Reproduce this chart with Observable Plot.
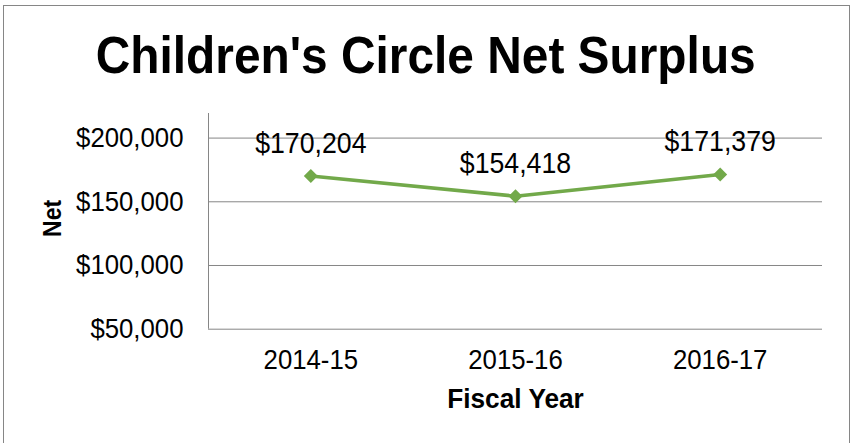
<!DOCTYPE html>
<html>
<head>
<meta charset="utf-8">
<script src="https://cdn.jsdelivr.net/npm/d3@7"></script>
<script src="https://cdn.jsdelivr.net/npm/@observablehq/plot@0.6"></script>
<style>
html, body { margin: 0; padding: 0; background: #fff; }
#wrap { position: relative; width: 852px; height: 443px; overflow: hidden;
  font-family: "Liberation Sans", Arial, sans-serif; color: #000; }
#border { position: absolute; left: 3px; top: 5px; width: 847px; height: 450px;
  border: 1px solid #868686; box-sizing: border-box; pointer-events: none; }
#title { height: 100px; box-sizing: border-box; padding-top: 25.5px; line-height: 58.1px;
  font-size: 52px; font-weight: bold; text-align: center; white-space: nowrap; }
#title span { display: inline-block; transform: scaleX(0.92); transform-origin: center; }
#chart svg { display: block; }
</style>
</head>
<body>
<div id="wrap">
  <div id="title"><span>Children's Circle Net Surplus</span></div>
  <div id="chart"></div>
  <div id="border"></div>
</div>
<script>
// ---- data ----
const years = ["2014-15", "2015-16", "2016-17"];
const netValues = [170204, 154418, 171379];
const yTicks = [50000, 100000, 150000, 200000];
const xLabel = "Fiscal Year";
const yLabel = "Net";

const data = years.map((year, i) => ({i, year, net: netValues[i]}));
const fmt = d3.format("$,");
const green = "#72a94a";
const gray = "#868686";
const xDomain = [-0.5, years.length - 0.5];
const yDomain = [50000, 219300];

const svg = Plot.plot({
  width: 852,
  height: 343,
  marginLeft: 208,
  marginRight: 30,
  marginTop: 13,
  marginBottom: 114.3,
  style: {fontFamily: '"Liberation Sans", Arial, sans-serif', fontSize: "28px", color: "#000", background: "transparent"},
  x: {domain: xDomain},
  y: {domain: yDomain},
  marks: [
    Plot.ruleY(yTicks.slice(1), {stroke: gray, strokeWidth: 1}),
    Plot.ruleY([yTicks[0]], {stroke: gray, strokeWidth: 1}),
    Plot.ruleX([xDomain[0]], {y1: yDomain[0], y2: yDomain[1], stroke: gray, strokeWidth: 1}),
    Plot.lineY(data, {x: "i", y: "net", stroke: green, strokeWidth: 3.5}),
    Plot.dot(data, {x: "i", y: "net", symbol: "diamond2", r: 6.3, fill: green, stroke: null}),
    Plot.text(data, {x: "i", y: "net", text: d => fmt(d.net), dy: -32.6, fontSize: 29,
      lineAnchor: "middle", textAnchor: "middle", fill: "#000"}),
    Plot.axisY(yTicks, {tickSize: 0, tickPadding: 25, tickFormat: fmt, fontSize: 28, label: null, fill: "#000"}),
    Plot.axisX(data.map(d => d.i), {tickSize: 0, tickPadding: 19.5, tickFormat: i => years[i], fontSize: 28, label: null, fill: "#000"}),
    Plot.text([xLabel], {frameAnchor: "bottom", dy: 69.3, fontWeight: "bold", fontSize: 28.5,
      lineAnchor: "middle", textAnchor: "middle", fill: "#000"}),
    Plot.text([yLabel], {frameAnchor: "left", dx: -155.5, dy: -3, rotate: -90, fontWeight: "bold", fontSize: 25,
      lineAnchor: "middle", textAnchor: "middle", fill: "#000"})
  ]
});

document.getElementById("chart").append(svg);
// slight horizontal condensing of the text, as in the reference rendering
svg.querySelectorAll("text").forEach(t => {
  const len = t.getComputedTextLength();
  if (len > 0) {
    t.setAttribute("textLength", (len * 0.92).toFixed(2));
    t.setAttribute("lengthAdjust", "spacingAndGlyphs");
  }
});
</script>
</body>
</html>
